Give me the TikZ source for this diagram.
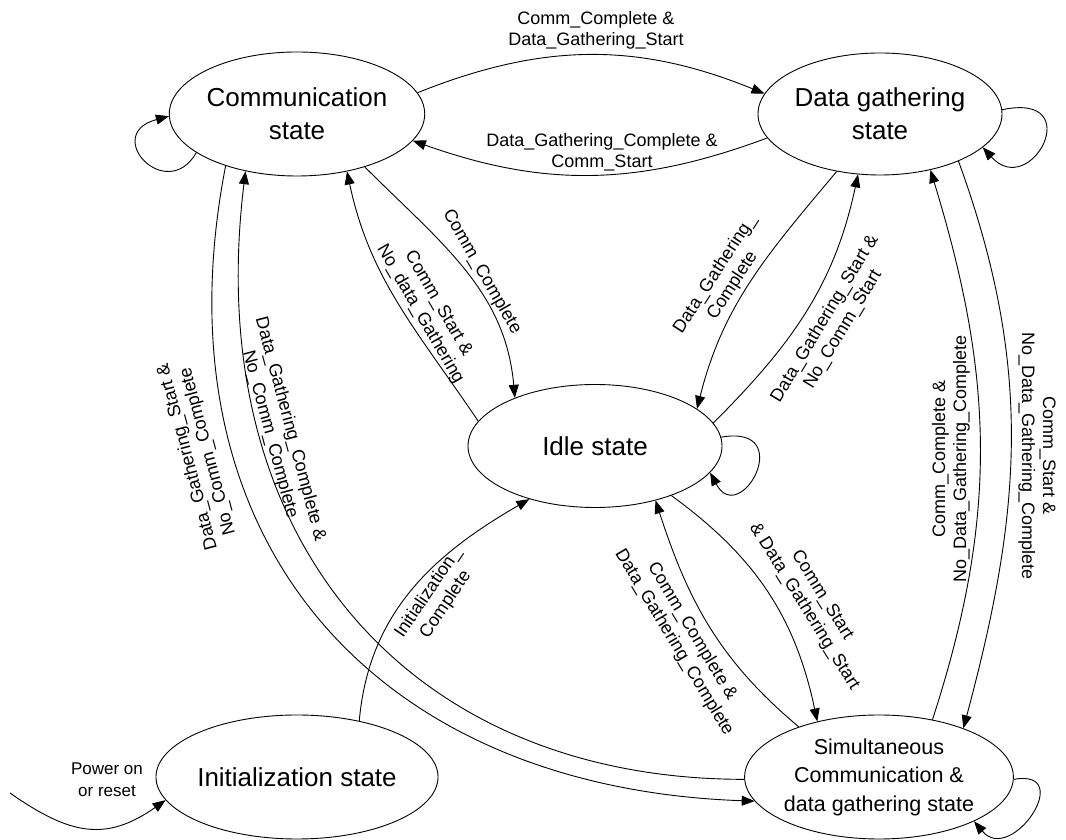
\documentclass[tikz,border=0pt]{standalone}
\usepackage{fontspec}
\setmainfont{Liberation Sans}
\usetikzlibrary{arrows.meta,shapes.geometric}
\begin{document}
\begin{tikzpicture}[x=1pt,y=1pt,
  state/.style={draw, ellipse, line width=0.9pt, inner sep=0pt, align=center,
    font=\fontsize{26}{33}\selectfont},
  trans/.style={draw, line width=0.9pt, -{Triangle[length=13pt,width=10pt]}},
  lab/.style={align=center, inner sep=0pt, font=\fontsize{18}{21}\selectfont}]
\useasboundingbox (0,0) rectangle (1066,840);

% states
\node[state, minimum width=242pt, minimum height=124pt] (comm) at (297,726) {Communication\\state};
\node[state, minimum width=244pt, minimum height=122pt] (dg) at (880,726) {Data gathering\\state};
\node[state, minimum width=254pt, minimum height=123pt] (idle) at (595,394) {Idle state};
\node[state, minimum width=242pt, minimum height=124pt] (init) at (297,63) {Initialization state};
\node[state, minimum width=244pt, minimum height=124pt, font=\fontsize{21.5}{28.5}\selectfont]
  (sim) at (879,63) {Simultaneous\\Communication \&\\data gathering state};
\coordinate (pwr) at (10,47);

% transitions between states
\draw[trans] (comm.10) to[bend left=22] (dg.170);
\draw[trans] (dg.192) to[bend left=20] (comm.347);
\draw[trans] (comm.322) to[out=-45,in=95] (idle.149);
\draw[trans] (idle.168) to[out=124,in=-78] (comm.311);
\draw[trans] (dg.233) to[out=-130,in=76] (idle.20);
\draw[trans] (idle.11) to[out=45,in=-102] (dg.250);
\draw[trans] (idle.327) to[out=-36,in=102] (sim.138);
\draw[trans] (sim.148) to[out=140,in=-72] (idle.318);
\draw[trans] (dg.329) to[out=-70,in=75] (sim.30);
\draw[trans] (sim.47) to[out=72,in=-73] (dg.312);
\draw[trans] (comm.216) to[out=-101,in=178,out distance=380pt,in distance=382pt] (sim.191);
\draw[trans] (sim.181) to[out=180,in=-97,out distance=337pt,in distance=370pt] (comm.228);
\draw[trans] (init.42) to[out=85,in=210] (idle.219);
\draw[trans] (pwr) to[out=-35,in=215,looseness=1.2] (init.190);

% self loops
\draw[trans] (comm.201) to[out=-120,in=195,out distance=60pt,in distance=70pt] (comm.181);
\draw[trans] (dg.2) to[out=12,in=-48,out distance=88pt,in distance=72pt] (dg.342);
\draw[trans] (idle.4) to[out=10,in=-62,out distance=78pt,in distance=64pt] (idle.347);
\draw[trans] (sim.359) to[out=10,in=-50,out distance=64pt,in distance=58pt] (sim.335);

% transition labels
\node[lab] (l1) at (596,810) {Comm\_Complete \&\\Data\_Gathering\_Start};
\node[lab] (l2) at (602,688) {Data\_Gathering\_Complete \&\\Comm\_Start};
\node[lab, rotate=-60] (l3) at (482,568) {Comm\_Complete};
\node[lab, rotate=-60] (l4) at (429,531) {Comm\_Start \&\\No\_data\_Gathering};
\node[lab, rotate=57] (l5) at (724,560) {Data\_Gathering\_\\Complete};
\node[lab, rotate=59] (l6) at (834,516) {Data\_Gathering\_Start \&\\No\_Comm\_Start};
\node[lab, rotate=-58] (l7) at (813,239) {Comm\_Start\\\& Data\_Gathering\_Start};
\node[lab, rotate=-59] (l8) at (683,203) {Comm\_Complete \&\\Data\_Gathering\_Complete};
\node[lab, rotate=-90] (l9) at (1037,384) {Comm\_Start \&\\No\_Data\_Gathering\_Complete};
\node[lab, rotate=90] (l10) at (951,381) {Comm\_Complete \&\\No\_Data\_Gathering\_Complete};
\node[lab, rotate=105] (l11) at (198,386) {Data\_Gathering\_Start \&\\No\_Comm\_Complete};
\node[lab, rotate=-75] (l12) at (280,408) {Data\_Gathering\_Complete \&\\No\_Comm\_Complete};
\node[lab, rotate=56] (l13) at (437,241) {Initialization\_\\Complete};
\node[lab, font=\fontsize{17}{22}\selectfont] (l14) at (107,60) {Power on\\or reset};
\end{tikzpicture}
\end{document}
